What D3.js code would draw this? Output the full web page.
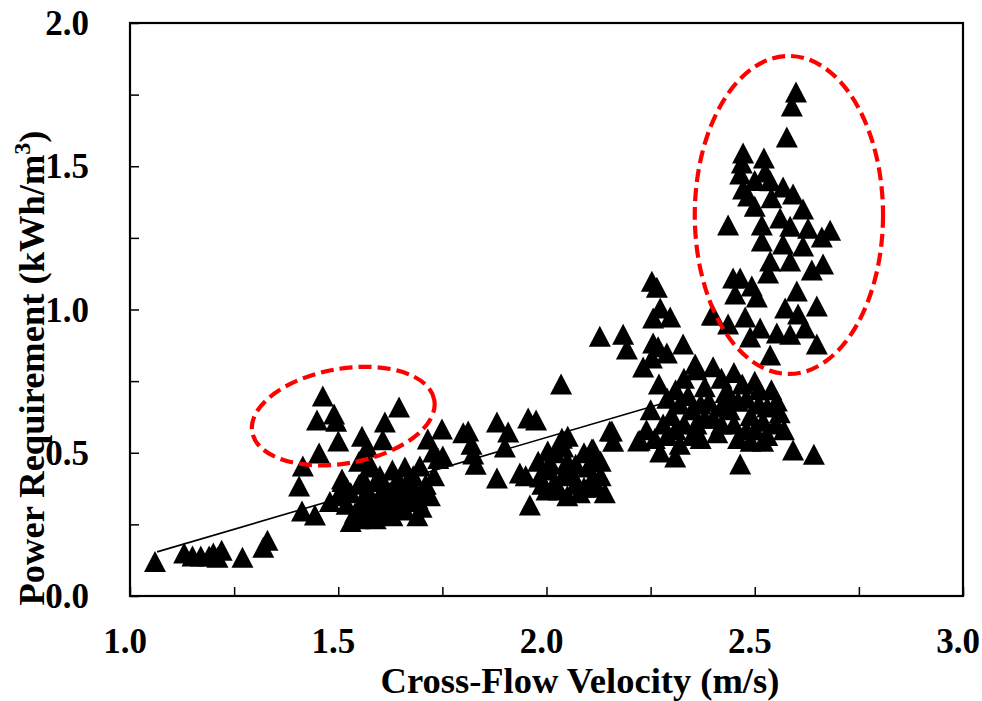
<!DOCTYPE html>
<html>
<head>
<meta charset="utf-8">
<script src="https://cdn.jsdelivr.net/npm/d3@7"></script>
<style>
  html, body { margin: 0; padding: 0; background: #fff; }
  svg { display: block; }
  text { font-family: "Liberation Serif", "Times New Roman", serif; font-weight: bold; fill: #000; }
</style>
</head>
<body>
<svg id="chart" width="982" height="701"></svg>
<script>
// Measured runs: [cross-flow velocity (m/s), power requirement (kWh/m3)]
const lowFlowRuns = [
  [1.06,0.12],[1.13,0.15],[1.15,0.14],[1.17,0.14],[1.19,0.14],[1.20,0.15],[1.21,0.135],
  [1.22,0.16],[1.27,0.135],[1.32,0.17],[1.33,0.195]
];
const moderateFlowRuns = [
  [1.463,0.698],[1.449,0.614],[1.490,0.635],[1.495,0.61],[1.500,0.541],[1.454,0.499],[1.415,0.454],
  [1.406,0.384],[1.413,0.297],[1.444,0.283],[1.557,0.558],[1.612,0.607],[1.646,0.660],[1.607,0.545],
  [1.566,0.478],[1.55,0.47],[1.749,0.583],[1.715,0.548],[1.728,0.503],[1.80,0.57],[1.509,0.408],
  [1.696,0.454],[1.51,0.40],[1.53,0.36],[1.52,0.32],[1.54,0.29],[1.53,0.26],[1.56,0.41],[1.57,0.37],
  [1.56,0.33],[1.58,0.30],[1.57,0.28],[1.60,0.42],[1.61,0.38],[1.60,0.34],[1.62,0.31],[1.61,0.29],
  [1.63,0.44],[1.64,0.40],[1.65,0.36],[1.64,0.33],[1.66,0.30],[1.67,0.41],[1.68,0.37],[1.69,0.34],
  [1.70,0.31],[1.71,0.39],[1.72,0.35],[1.58,0.45],[1.55,0.39],[1.59,0.27],[1.63,0.28],[1.66,0.45],
  [1.50,0.35],[1.48,0.33],[1.73,0.42],[1.74,0.48],[1.57,0.52],
  [1.52,0.38],[1.55,0.31],[1.58,0.34],[1.59,0.40],[1.62,0.36],[1.65,0.39],[1.67,0.33],[1.69,0.28],
  [1.55,0.27],[1.60,0.30],[1.63,0.32],[1.66,0.37],[1.70,0.36],[1.68,0.42]
];
const mediumFlowRuns = [
  [1.812,0.576],[1.881,0.607],[1.908,0.572],[1.956,0.621],[1.975,0.614],[2.035,0.740],[1.751,0.489],
  [1.824,0.496],[1.82,0.53],[1.83,0.46],[1.900,0.520],[1.881,0.412],[1.936,0.429],[1.960,0.318],
  [1.984,0.415],[2.003,0.506],[2.037,0.551],[2.051,0.558],[2.109,0.513],[2.152,0.576],[2.16,0.54],
  [2.224,0.544],[1.98,0.47],[2.00,0.44],[2.02,0.40],[2.03,0.37],[2.05,0.47],[2.06,0.43],[2.07,0.39],
  [2.08,0.36],[2.10,0.45],[2.11,0.41],[2.12,0.38],[2.13,0.47],[2.02,0.50],[2.09,0.50],[1.99,0.39],
  [2.05,0.35],[2.14,0.36],[2.13,0.42],[1.95,0.42],[2.04,0.52],
  [2.01,0.46],[2.04,0.42],[2.07,0.46],[2.09,0.38],[2.11,0.47],[2.00,0.37]
];
const fastFlowRuns = [
  [2.253,1.099],[2.265,1.078],[2.273,1.005],[2.256,0.970],[2.297,0.974],[2.128,0.907],[2.184,0.914],
  [2.193,0.862],[2.256,0.883],[2.268,0.87],[2.328,0.880],[2.232,0.799],[2.253,0.831],[2.289,0.848],
  [2.357,0.810],[2.397,0.981],[2.157,0.576],[2.220,0.541],[2.112,0.513],[2.273,0.503],[2.309,0.485],
  [2.465,0.461],[2.553,0.681],[2.592,0.51],[2.642,0.495],[2.27,0.74],[2.29,0.69],[2.30,0.63],
  [2.31,0.58],[2.32,0.53],[2.33,0.76],[2.34,0.70],[2.35,0.65],[2.36,0.60],[2.37,0.55],[2.38,0.73],
  [2.39,0.68],[2.40,0.62],[2.41,0.57],[2.42,0.76],[2.43,0.71],[2.44,0.65],[2.45,0.60],[2.46,0.55],
  [2.47,0.74],[2.48,0.69],[2.49,0.63],[2.50,0.58],[2.51,0.67],[2.52,0.61],[2.53,0.56],[2.54,0.72],
  [2.36,0.79],[2.40,0.80],[2.45,0.78],[2.28,0.60],[2.25,0.65],[2.24,0.58],[2.50,0.75],[2.56,0.64],
  [2.32,0.67],
  [2.26,0.55],[2.29,0.56],[2.33,0.60],[2.35,0.56],[2.38,0.62],[2.42,0.66],[2.44,0.70],[2.46,0.68],
  [2.48,0.58],[2.51,0.72],[2.53,0.66],[2.55,0.60],[2.42,0.60],[2.37,0.67],[2.31,0.72],[2.49,0.54],
  [2.52,0.54],[2.57,0.58]
];
const peakFlowRuns = [
  [2.599,1.759],[2.589,1.710],[2.577,1.602],[2.472,1.546],[2.522,1.529],[2.469,1.511],[2.465,1.473],
  [2.472,1.421],[2.525,1.480],[2.537,1.449],[2.568,1.428],[2.592,1.403],[2.616,1.351],[2.436,1.295],
  [2.484,1.396],[2.517,1.295],[2.561,1.319],[2.585,1.291],[2.628,1.284],[2.681,1.277],[2.661,1.253],
  [2.517,1.239],[2.568,1.229],[2.616,1.222],[2.537,1.169],[2.585,1.169],[2.664,1.159],[2.637,1.138],
  [2.448,1.110],[2.465,1.11],[2.493,1.082],[2.532,1.127],[2.453,1.054],[2.505,1.044],[2.601,1.065],
  [2.649,1.012],[2.400,0.981],[2.573,1.005],[2.604,0.984],[2.436,0.949],[2.477,0.974],[2.513,0.935],
  [2.553,0.918],[2.585,0.914],[2.621,0.935],[2.649,0.880],[2.537,0.841],[2.489,0.904],
  [2.50,1.45],[2.50,1.36],[2.54,1.39]
];

// Linear trend through the lower-velocity runs (endpoints)
const trendVelocity = [1.065, 2.28];
const trendPower = [0.154, 0.673];

// Highlighted groups: centre (velocity, power), half-widths in axis units, tilt in degrees
const highlightCentres = [[1.512, 0.628], [2.582, 1.330]];
const highlightRadii = [[0.222, 0.165], [0.226, 0.555]];
const highlightTilt = [-10, 0];

const xTicks = [1.0, 1.5, 2.0, 2.5, 3.0];
const xMinorTicks = [1.0, 1.25, 1.5, 1.75, 2.0, 2.25, 2.5, 2.75, 3.0];
const yTicks = [0.0, 0.5, 1.0, 1.5, 2.0];
const yMinorTicks = [0.0, 0.25, 0.5, 0.75, 1.0, 1.25, 1.5, 1.75, 2.0];

(function drawChart() {
  const svg = d3.select("#chart");
  const plotLeft = 130, plotRight = 963, plotTop = 23, plotBottom = 596;

  const x = d3.scaleLinear().domain([1.0, 3.0]).range([plotLeft, plotRight]);
  const y = d3.scaleLinear().domain([0.0, 2.0]).range([plotBottom, plotTop]);

  // Tick marks point into the plot
  const xAxis = d3.axisBottom(x).tickValues(xMinorTicks).tickSize(-9).tickFormat("");
  const yAxis = d3.axisLeft(y).tickValues(yMinorTicks).tickSize(-9).tickFormat("");

  const gx = svg.append("g").attr("transform", `translate(0,${plotBottom})`).call(xAxis);
  const gy = svg.append("g").attr("transform", `translate(${plotLeft},0)`).call(yAxis);
  [gx, gy].forEach(g => {
    g.select(".domain").remove();
    g.selectAll(".tick line").attr("stroke", "#000").attr("stroke-width", 1.5);
  });

  // Tick labels
  svg.append("g").selectAll("text").data(xTicks).join("text")
    .attr("x", d => x(d) - 5)
    .attr("y", 653)
    .attr("text-anchor", "middle")
    .attr("font-size", 35)
    .text(d => d.toFixed(1));

  svg.append("g").selectAll("text").data(yTicks).join("text")
    .attr("x", 89)
    .attr("y", d => y(d) + 12)
    .attr("text-anchor", "end")
    .attr("font-size", 35)
    .text(d => d.toFixed(1));

  // Trend line
  svg.append("line")
    .attr("x1", x(trendVelocity[0])).attr("y1", y(trendPower[0]))
    .attr("x2", x(trendVelocity[1])).attr("y2", y(trendPower[1]))
    .attr("stroke", "#000").attr("stroke-width", 1.6);

  // Triangle marker: bounding box centred on the data point
  const triangle = {
    draw(ctx) {
      ctx.moveTo(0, -10.5);
      ctx.lineTo(11, 10.5);
      ctx.lineTo(-11, 10.5);
      ctx.closePath();
    }
  };
  const marker = d3.symbol().type(triangle);

  const runs = [].concat(lowFlowRuns, moderateFlowRuns, mediumFlowRuns, fastFlowRuns, peakFlowRuns);
  svg.append("g").selectAll("path").data(runs).join("path")
    .attr("d", marker)
    .attr("transform", d => `translate(${x(d[0])},${y(d[1])})`)
    .attr("fill", "#000");

  // Dashed highlight ellipses
  svg.append("g").selectAll("ellipse").data(highlightCentres).join("ellipse")
    .attr("cx", 0).attr("cy", 0)
    .attr("rx", (d, i) => x(1 + highlightRadii[i][0]) - x(1))
    .attr("ry", (d, i) => y(0) - y(highlightRadii[i][1]))
    .attr("transform", (d, i) => `translate(${x(d[0])},${y(d[1])}) rotate(${highlightTilt[i]})`)
    .attr("fill", "none")
    .attr("stroke", "#ff0000")
    .attr("stroke-width", 4.2)
    .attr("stroke-dasharray", "13,6");

  // Plot frame
  svg.append("rect")
    .attr("x", plotLeft).attr("y", plotTop)
    .attr("width", plotRight - plotLeft).attr("height", plotBottom - plotTop)
    .attr("fill", "none").attr("stroke", "#000").attr("stroke-width", 2.2);

  // Axis titles
  svg.append("text")
    .attr("x", 580).attr("y", 693)
    .attr("text-anchor", "middle")
    .attr("font-size", 36.5)
    .text("Cross-Flow Velocity (m/s)");

  const yTitle = svg.append("text")
    .attr("transform", "translate(44,368) rotate(-90)")
    .attr("text-anchor", "middle")
    .attr("font-size", 36.5);
  yTitle.append("tspan").text("Power Requirement (kWh/m");
  yTitle.append("tspan").attr("dy", -14).attr("font-size", 24).text("3");
  yTitle.append("tspan").attr("dy", 14).text(")");
})();
</script>
</body>
</html>
